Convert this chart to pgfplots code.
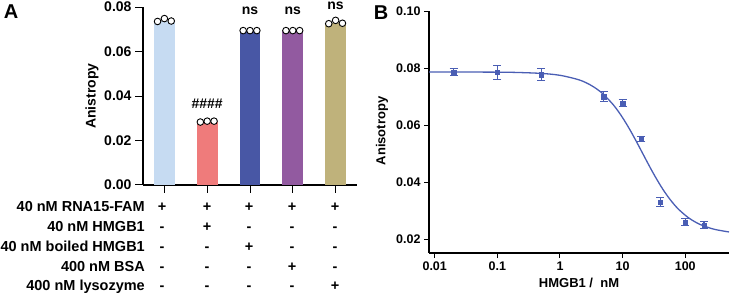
\documentclass[border=0pt]{standalone}
\usepackage{pgfplots}
\pgfplotsset{compat=1.18}
\usepackage{fontspec}
\setmainfont{Liberation Sans}
\definecolor{cA}{HTML}{C6DBF2}
\definecolor{cB}{HTML}{EF7B7B}
\definecolor{cC}{HTML}{4857A5}
\definecolor{cD}{HTML}{925AA0}
\definecolor{cE}{HTML}{BFB27B}
\definecolor{cblue}{HTML}{4A5EB4}
\newcommand{\fs}[1]{\bfseries\fontsize{#1}{#1}\selectfont}
\begin{document}
\begin{tikzpicture}[x=1pt,y=1pt]
\useasboundingbox (0,0) rectangle (731,297);
% ---------------- Panel A ----------------
\begin{axis}[at={(143pt,112pt)}, anchor=south west, scale only axis,
  width=214pt, height=178pt,
  xmin=-0.5, xmax=4.5, ymin=0, ymax=0.08,
  axis x line=bottom, axis y line=left,
  axis line style={-, line width=1.2pt},
  xtick={0,1,2,3,4}, xticklabels={},
  ytick={0,0.02,0.04,0.06,0.08},
  scaled y ticks=false,
  yticklabel style={/pgf/number format/.cd, fixed, fixed zerofill, precision=2, assume math mode=true},
  tick label style={font=\fs{14}},
  tick align=outside, major tick length=8pt,
  tick style={line width=1pt, black},
  clip=false]
\addplot[ybar, bar width=20.7pt, bar shift=0pt, fill=cA, draw=none] coordinates {(0,0.0739)};
\addplot[ybar, bar width=20.7pt, bar shift=0pt, fill=cB, draw=none] coordinates {(1,0.0285)};
\addplot[ybar, bar width=20.7pt, bar shift=0pt, fill=cC, draw=none] coordinates {(2,0.0694)};
\addplot[ybar, bar width=20.7pt, bar shift=0pt, fill=cD, draw=none] coordinates {(3,0.0694)};
\addplot[ybar, bar width=20.7pt, bar shift=0pt, fill=cE, draw=none] coordinates {(4,0.0730)};
\addplot[only marks, mark=*, mark size=3.3pt, mark options={fill=white, draw=black, line width=0.9pt}] coordinates {
 (-0.16,0.0735) (0,0.0748) (0.16,0.0737)
 (0.84,0.0283) (1,0.0287) (1.16,0.0287)
 (1.84,0.0694) (2,0.0694) (2.16,0.0694)
 (2.84,0.0694) (3,0.0694) (3.16,0.0694)
 (3.84,0.0725) (4,0.0740) (4.16,0.0727)};
\node[font=\fs{14}] at (axis cs:1,0.0367) {\#\#\#\#};
\node[font=\fs{14}] at (axis cs:2,0.0785) {ns};
\node[font=\fs{14}] at (axis cs:3,0.0785) {ns};
\node[font=\fs{14}, inner sep=0pt] at (axis cs:4,0.0806) {ns};
\end{axis}
\node[font=\fs{20}] at (11,285) {A};
\node[font=\fs{14}, rotate=90] at (92,201) {Anistropy};
% row labels
\foreach \lab/\yy in {40 nM RNA15-FAM/85, 40 nM HMGB1/65, 40 nM boiled HMGB1/45, 400 nM BSA/25, 400 nM lysozyme/6}
  \node[font=\fs{14.5}, anchor=base east, inner sep=0pt] at (145,\yy) {\lab};
\foreach \xx in {162,207,249,292,335} \node[font=\fs{14.5}, anchor=base, inner sep=0pt] at (\xx,85) {+};
\foreach \xx/\s in {162/-,207/+,249/-,292/-,335/-} \node[font=\fs{14.5}, anchor=base, inner sep=0pt] at (\xx,65) {\s};
\foreach \xx/\s in {162/-,207/-,249/+,292/-,335/-} \node[font=\fs{14.5}, anchor=base, inner sep=0pt] at (\xx,45) {\s};
\foreach \xx/\s in {162/-,207/-,249/-,292/+,335/-} \node[font=\fs{14.5}, anchor=base, inner sep=0pt] at (\xx,25) {\s};
\foreach \xx/\s in {162/-,207/-,249/-,292/-,335/+} \node[font=\fs{14.5}, anchor=base, inner sep=0pt] at (\xx,6) {\s};
% ---------------- Panel B ----------------
\begin{axis}[at={(429pt,44pt)}, anchor=south west, scale only axis,
  width=300pt, height=242pt,
  xmode=log, xmin=0.0081, xmax=500, ymin=0.0151, ymax=0.10,
  axis x line=bottom, axis y line=left,
  axis line style={-, line width=1.1pt},
  xtick={0.01,0.1,1,10,100}, xticklabels={0.01,0.1,1,10,100},
  xminorticks=false,
  ytick={0.02,0.04,0.06,0.08,0.10},
  scaled y ticks=false,
  yticklabel style={/pgf/number format/.cd, fixed, fixed zerofill, precision=2, assume math mode=true},
  tick label style={font=\fs{12.5}},
  tick align=outside, major tick length=5pt,
  tick style={line width=1pt, black},
  clip=false]
\addplot[cblue, line width=1.3pt, smooth] coordinates {
 (0.0081,0.0786) (0.02,0.07859) (0.05,0.07857) (0.1,0.07854) (0.2,0.07845) (0.5,0.07811)
 (1,0.07744) (2,0.07587) (3,0.07417) (4,0.07241) (5,0.07066) (7,0.06726) (8.5,0.06484)
 (10,0.06256) (12,0.05975) (14,0.05719) (17,0.05379) (20,0.05085) (24,0.04754) (28,0.04479)
 (33,0.04197) (40,0.03887) (47,0.03649) (56,0.03415) (67,0.03204) (80,0.03023) (110,0.02763)
 (150,0.02578) (200,0.02454) (300,0.02335) (500,0.02248)};
\addplot[cblue, only marks, mark=square*, mark size=2.2pt,
  error bars/.cd, y dir=both, y explicit,
  error bar style={line width=1.2pt, cblue},
  error mark options={rotate=90, mark size=4pt, line width=1.2pt, cblue}]
  table[x=x, y=y, y error=e] {
 x y e
 0.02 0.0786 0.0012
 0.1 0.0785 0.0025
 0.5 0.0777 0.0021
 5 0.0700 0.0017
 10 0.0677 0.0013
 20 0.0551 0.0010
 40 0.0330 0.0017
 100 0.0260 0.0013
 200 0.0249 0.0012
};
\end{axis}
\node[font=\fs{20}] at (381,284) {B};
\node[font=\fs{13}, rotate=90] at (382,166) {Anisotropy};
\node[font=\fs{13}] at (579,14) {HMGB1 /\ \ nM};
\end{tikzpicture}
\end{document}
